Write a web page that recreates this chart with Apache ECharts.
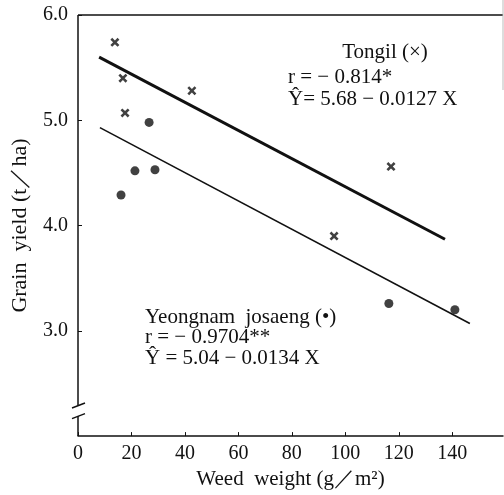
<!DOCTYPE html>
<html><head><meta charset="utf-8">
<script src="https://cdn.jsdelivr.net/npm/echarts@6/dist/echarts.min.js"></script>
<style>html,body{margin:0;padding:0;background:#fff}#c{width:504px;height:495px}</style>
</head><body><div id="c"></div>
<script>
// Tongil (x)
const tongilX = [13.8, 16.8, 17.6, 42.6, 95.8, 117.1];
const tongilY = [5.74, 5.40, 5.07, 5.28, 3.90, 4.56];
// Yeongnam josaeng (•)
const yeongX = [16.1, 21.3, 26.6, 28.8, 116.3, 141.0];
const yeongY = [4.29, 4.52, 4.98, 4.53, 3.26, 3.20];
// regression line end points
const tongilFitX = [7.9, 137.3];
const tongilFitY = [5.60, 3.87];
const yeongFitX = [8.2, 146.6];
const yeongFitY = [4.93, 3.07];
// axis ticks
const xTickLabels = [0, 20, 40, 60, 80, 100, 120, 140];
const yTickValues = [3, 4, 5, 6];

const FONT = '"Liberation Serif", "Times New Roman", serif';
const zip = (a, b) => a.map((v, i) => [v, b[i]]);
const xMark = 'path://M0,2 L2,0 L5,3 L8,0 L10,2 L7,5 L10,8 L8,10 L5,7 L2,10 L0,8 L3,5 Z';

const chart = echarts.init(document.getElementById('c'), null, {renderer: 'canvas'});
chart.setOption({
  animation: false,
  backgroundColor: '#fff',
  grid: {left: 78, top: 15, right: 1, bottom: 53, containLabel: false},
  xAxis: {
    type: 'value', min: 0, max: 159, interval: 20,
    name: 'Weed  weight (g／m²)', nameLocation: 'middle', nameGap: 30,
    nameTextStyle: {fontFamily: FONT, fontSize: 21, color: '#111'},
    axisLine: {lineStyle: {color: '#111', width: 1.5}},
    axisTick: {inside: true, length: 4, customValues: xTickLabels, lineStyle: {color: '#111'}},
    axisLabel: {margin: 8, fontFamily: FONT, fontSize: 20, color: '#111', customValues: xTickLabels,
      formatter: v => xTickLabels.includes(v) ? String(v) : ''},
    splitLine: {show: false}
  },
  yAxis: {
    type: 'value', min: 2, max: 6, interval: 1,
    name: 'Grain  yield (t／ha)', nameLocation: 'middle', nameGap: 47,
    nameTextStyle: {fontFamily: FONT, fontSize: 22, color: '#111'},
    axisLine: {show: false},
    axisTick: {inside: true, length: 4, customValues: yTickValues, lineStyle: {color: '#111'}},
    axisLabel: {margin: 10, fontFamily: FONT, fontSize: 20, color: '#111', customValues: yTickValues,
      formatter: v => yTickValues.includes(v) ? v.toFixed(1) : ''},
    splitLine: {show: false}
  },
  series: [
    {name: 'Tongil fit', type: 'line', data: zip(tongilFitX, tongilFitY), symbol: 'none',
     lineStyle: {color: '#111', width: 3}},
    {name: 'Yeongnam fit', type: 'line', data: zip(yeongFitX, yeongFitY), symbol: 'none',
     lineStyle: {color: '#111', width: 1.6}},
    {name: 'Tongil', type: 'scatter', data: zip(tongilX, tongilY), symbol: xMark, symbolSize: 9,
     itemStyle: {color: '#111'}},
    {name: 'Yeongnam josaeng', type: 'scatter', data: zip(yeongX, yeongY), symbol: 'circle', symbolSize: 9,
     itemStyle: {color: '#111'}}
  ]
});

const p = (x, y) => chart.convertToPixel({gridIndex: 0}, [x, y]);
const ln = (a, b, w, c) => ({type: 'line', shape: {x1: a[0], y1: a[1], x2: b[0], y2: b[1]},
  style: {stroke: c || '#111', lineWidth: w || 1.5}, silent: true});
const tx = (t, x, y, align) => ({type: 'text', x: x, y: y, silent: true,
  style: {text: t, font: '21px ' + FONT, fill: '#111', textAlign: align || 'left', textVerticalAlign: 'middle'}});

const b0 = p(0, 2), bLo = p(0, 2.19), bHi = p(0, 2.29), top0 = p(0, 6), topR = p(159, 6);
chart.setOption({
  graphic: [
    ln(b0, bLo), ln(bHi, top0),
    ln([bLo[0] - 6, bLo[1] + 2.5], [bLo[0] + 7, bLo[1] - 2.5], 1.5),
    ln([bHi[0] - 6, bHi[1] + 2.5], [bHi[0] + 7, bHi[1] - 2.5], 1.5),
    ln(top0, topR, 1.5),
    ln([503, 0], [503, 90], 1, '#bbb'),
    tx('Tongil (×)', 385, 52, 'center'),
    tx('r = − 0.814*', 288, 77),
    tx('Ŷ= 5.68 − 0.0127 X', 288, 99),
    tx('Yeongnam  josaeng (•)', 145, 317),
    tx('r = − 0.9704**', 145, 337),
    tx('Ŷ = 5.04 − 0.0134 X', 145, 358)
  ]
});
</script></body></html>
